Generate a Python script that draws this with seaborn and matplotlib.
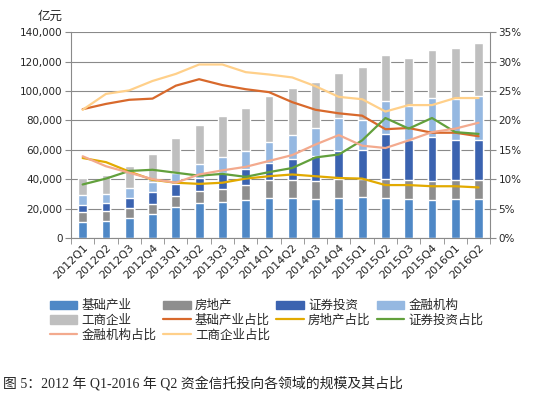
import numpy as np
import matplotlib
matplotlib.use('Agg')
import matplotlib.pyplot as plt
from matplotlib.patches import Patch
from matplotlib.lines import Line2D
from matplotlib.ticker import FuncFormatter
import seaborn as sns

quarters = ['2012Q1', '2012Q2', '2012Q3', '2012Q4', '2013Q1', '2013Q2', '2013Q3', '2013Q4',
            '2014Q1', '2014Q2', '2014Q3', '2014Q4', '2015Q1', '2015Q2', '2015Q3', '2015Q4',
            '2016Q1', '2016Q2']

# 规模（亿元）
jichu = [10900, 11600, 13400, 16100, 20900, 23900, 24600, 25800, 27100, 27100, 26400, 27100,
         27600, 27200, 26500, 25600, 26500, 26500]
fangdichan = [6800, 6800, 6800, 7100, 7700, 7900, 8600, 10100, 12400, 12400, 12500, 13100,
              12300, 12700, 12700, 13100, 12700, 12700]
zhengquan = [4800, 5500, 6800, 7900, 8400, 8700, 11300, 10900, 11300, 14100, 16700, 18800,
             20100, 30800, 27200, 29700, 27200, 27200]
jinrong = [6800, 6100, 6900, 7300, 7400, 9700, 10400, 12200, 14300, 16500, 19000, 22400,
           20500, 22200, 23400, 26700, 28100, 30100]
gongshang = [11400, 12700, 15200, 18600, 23800, 26600, 27800, 29100, 31200, 31600, 31200, 31100,
             35500, 31900, 32300, 33100, 34400, 35800]

# 占比（%）
jichu_pct = [21.9, 22.8, 23.5, 23.7, 25.9, 27.0, 26.0, 25.3, 24.8, 23.1, 21.8, 21.2,
             20.8, 18.5, 18.7, 17.9, 17.9, 17.3]
fangdichan_pct = [13.6, 12.9, 11.3, 9.9, 9.4, 9.2, 9.4, 10.1, 10.5, 10.8, 10.5, 10.2,
                  10.1, 9.0, 9.0, 8.8, 8.8, 8.6]
zhengquan_pct = [9.1, 10.1, 11.4, 11.6, 11.1, 10.6, 10.9, 10.4, 11.2, 11.9, 13.7, 14.2,
                 16.6, 20.4, 18.6, 20.4, 18.0, 17.7]
jinrong_pct = [13.9, 12.2, 11.1, 10.0, 9.4, 10.8, 11.5, 12.1, 13.1, 14.1, 15.9, 17.5,
               15.7, 15.3, 16.6, 18.0, 18.6, 19.6]
gongshang_pct = [21.8, 24.5, 25.1, 26.7, 27.9, 29.5, 29.5, 28.2, 27.8, 27.3, 25.8, 24.0,
                 23.6, 21.5, 22.6, 22.6, 23.8, 23.8]

bar_names = ['基础产业', '房地产', '证券投资', '金融机构', '工商企业']
bar_colors = ['#4F88C6', '#8E8E8E', '#3B63B0', '#95B8E1', '#BFBFBF']
line_names = ['基础产业占比', '房地产占比', '证券投资占比', '金融机构占比', '工商企业占比']
line_colors = ['#D8692C', '#E2AA00', '#62A03C', '#F3AA8E', '#FFD08A']

sns.set_style('white')
plt.rcParams['font.family'] = ['DejaVu Sans', 'Noto Sans CJK SC']
grey = '#8A8A8A'

fig, ax = plt.subplots(figsize=(5.34, 3.97), dpi=100)
fig.subplots_adjust(left=0.133, right=0.918, bottom=0.4005, top=0.919)

# 堆叠柱：先画总高，再逐层覆盖
cum = np.cumsum([jichu, fangdichan, zhengquan, jinrong, gongshang], axis=0)
for i in reversed(range(5)):
    sns.barplot(x=quarters, y=cum[i], color=bar_colors[i], saturation=1, width=0.38,
                ax=ax, zorder=2)

ax.set_ylim(0, 140000)
ax.set_yticks(np.arange(0, 140001, 20000))
ax.yaxis.set_major_formatter(FuncFormatter(lambda v, p: f'{v:,.0f}'))
ax.yaxis.grid(True, color=grey, lw=0.8)
ax.set_axisbelow(True)
ax.set_xlabel('')
ax.set_ylabel('')

ax2 = ax.twinx()
pcts = [jichu_pct, fangdichan_pct, zhengquan_pct, jinrong_pct, gongshang_pct]
xs = np.arange(len(quarters))
for vals, c in zip(pcts, line_colors):
    sns.lineplot(x=xs, y=np.array(vals) / 100, color=c, lw=1.6, ax=ax2)
ax2.set_ylim(0, 0.35)
ax2.set_yticks(np.arange(0, 0.351, 0.05))
ax2.yaxis.set_major_formatter(FuncFormatter(lambda v, p: f'{v * 100:.0f}%'))
ax2.set_ylabel('')
ax.set_xlim(-0.5, len(quarters) - 0.5)

for s in ['top', 'right']:
    ax.spines[s].set_visible(False)
for s in ['top', 'left', 'bottom']:
    ax2.spines[s].set_visible(False)
ax.spines['left'].set_color(grey)
ax.spines['bottom'].set_color(grey)
ax2.spines['right'].set_color(grey)

ax.tick_params(axis='y', left=True, length=4, color=grey, labelsize=7.5, pad=2)
ax2.tick_params(axis='y', right=True, length=4, color=grey, labelsize=7.5, pad=2)
ax.set_xticks(np.arange(-0.5, len(quarters), 1), minor=True)
ax.tick_params(axis='x', which='minor', bottom=True, length=4, color=grey)
ax.tick_params(axis='x', which='major', length=0, labelsize=8, pad=3)
for lab in ax.get_xticklabels():
    lab.set_rotation(45)
    lab.set_ha('right')
    lab.set_rotation_mode('anchor')

fig.text(0.094, 1 - 16 / 397, '亿元', ha='center', va='center', fontsize=9,
         family='Noto Sans CJK SC')

handles = [Patch(color=c) for c in bar_colors] + [Line2D([], [], color=c, lw=1.6) for c in line_colors]
labels = bar_names + line_names
order = [0, 4, 8, 1, 5, 9, 2, 6, 3, 7]
fig.legend([handles[i] for i in order], [labels[i] for i in order], loc='upper left',
           bbox_to_anchor=(0.0936, 0.246), ncol=4, frameon=False,
           prop={'family': 'Noto Sans CJK SC', 'size': 9}, handlelength=2.2,
           handletextpad=0.35, columnspacing=0.5, labelspacing=0.12, borderpad=0,
           borderaxespad=0)

fig.text(0.006, 1 - 383 / 397, '图 5：2012 年 Q1-2016 年 Q2 资金信托投向各领域的规模及其占比',
         fontsize=10, va='center', family=['Liberation Serif', 'Noto Sans CJK SC'])

fig.savefig('out.png', dpi=100)
